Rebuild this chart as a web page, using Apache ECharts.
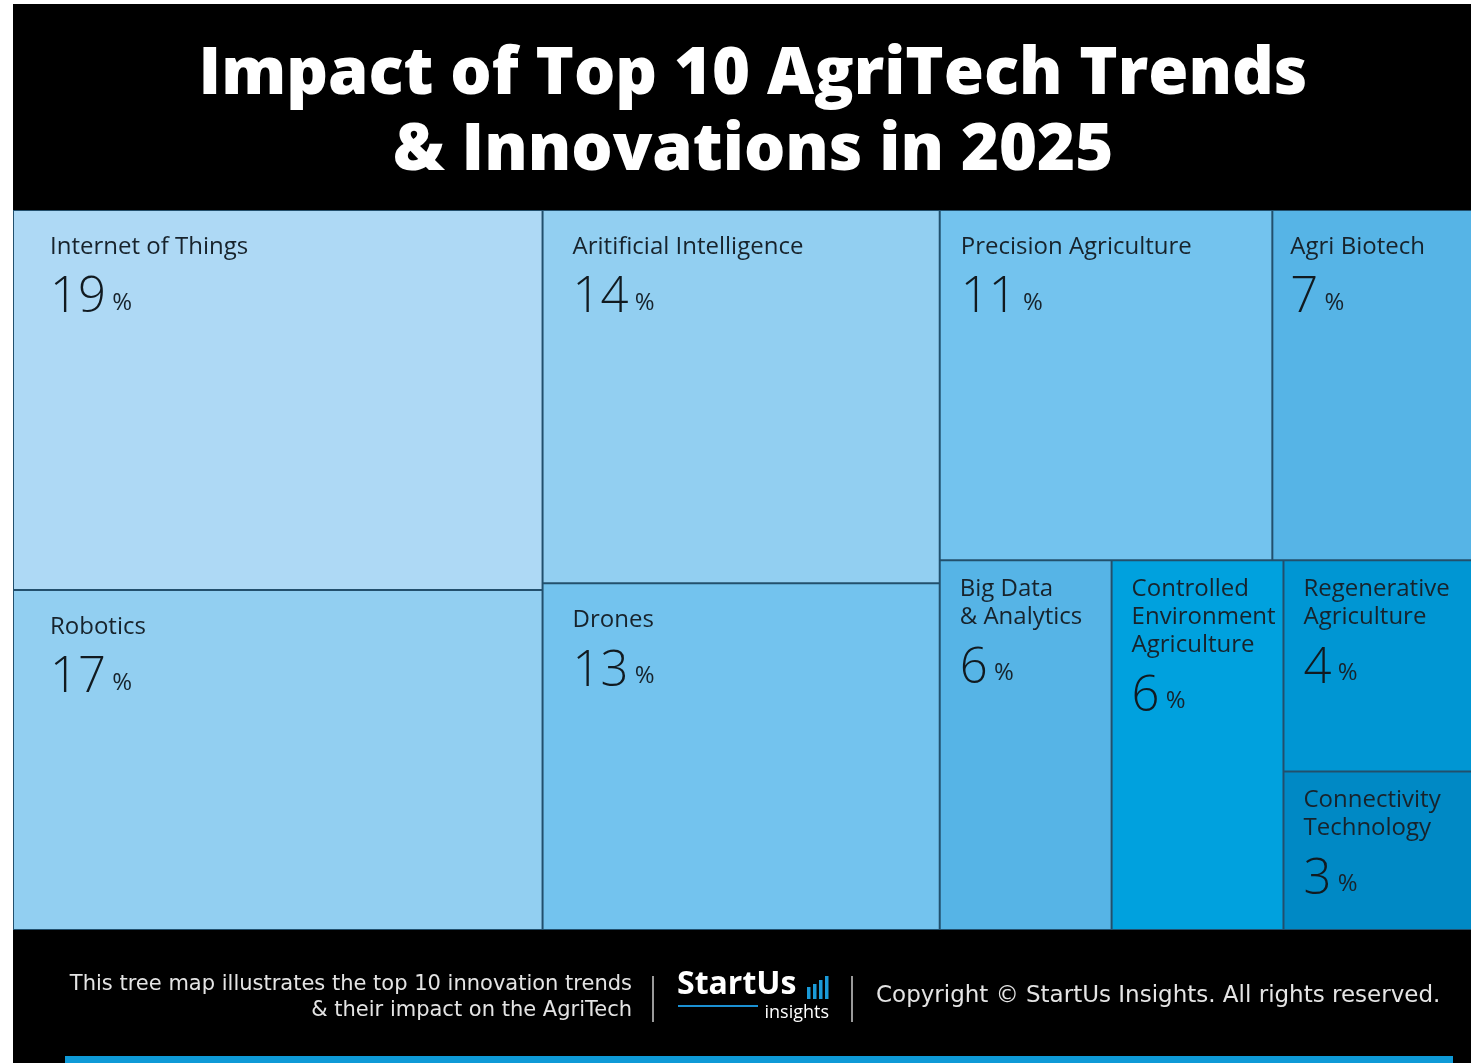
<!DOCTYPE html>
<html>
<head>
<meta charset="utf-8">
<title>Impact of Top 10 AgriTech Trends &amp; Innovations in 2025</title>
<script src="https://cdn.jsdelivr.net/npm/echarts@6/dist/echarts.min.js"></script>
<style>
  html, body { margin: 0; padding: 0; background: #ffffff; }
  #chart { width: 1471px; height: 1063px; }
</style>
</head>
<body>
<div id="chart"></div>
<script>
// ---- data -------------------------------------------------------------
const trendNames = [
  'Internet of Things',
  'Robotics',
  'Aritificial Intelligence',
  'Drones',
  'Precision Agriculture',
  'Agri Biotech',
  'Big Data\n& Analytics',
  'Controlled\nEnvironment\nAgriculture',
  'Regenerative\nAgriculture',
  'Connectivity\nTechnology'
];
const impactPct = [19, 17, 14, 13, 11, 7, 6, 6, 4, 3];
const cellColors = [
  '#aed9f5', '#92cff1', '#92cff1', '#73c3ee', '#73c3ee',
  '#56b4e6', '#56b4e6', '#00a1de', '#0096d3', '#0089c5'
];
const titleLines = ['Impact of Top 10 AgriTech Trends', '& Innovations in 2025'];
const noteLines = ['This tree map illustrates the top 10 innovation trends', '& their impact on the AgriTech'];
const brandName = 'StartUs';
const brandSub = 'insights';
const copyrightText = 'Copyright \u00a9 StartUs Insights. All rights reserved.';

// ---- nested blocks of the map (indices into the arrays above) ----------
// label inset [left, top] inside a cell: roomier in the big left blocks
const insetWide = [31, 17];
const insetMid = [24, 17];
const insetNarrow = [15, 17];
const insetLow = [14, 9];

const leaf = (i, inset) => ({
  name: trendNames[i],
  value: impactPct[i],
  itemStyle: { color: cellColors[i], borderWidth: 1 },
  label: { position: inset }
});
const group = (name, children) => ({ name, children });

const treeData = [
  group('g1', [leaf(0, insetWide), leaf(1, insetWide)]),
  group('g2', [leaf(2, insetMid), leaf(3, insetMid)]),
  group('g3', [
    group('g3a', [leaf(4, insetNarrow), leaf(5, [12, 17])]),
    group('g3b', [leaf(6, insetLow), leaf(7, insetLow),
      group('g3c', [leaf(8, insetLow), leaf(9, insetLow)])])
  ])
];

// ---- chart ------------------------------------------------------------
const chart = echarts.init(document.getElementById('chart'), null, { renderer: 'canvas' });

const textFont = '"Open Sans", "Noto Sans", sans-serif';
const footFont = '"DejaVu Sans", "Open Sans", sans-serif';
const barHeights = [12, 15, 19, 23];

const graphics = [
  // dark panel behind everything
  { type: 'rect', z: -10, shape: { x: 13, y: 4, width: 1458, height: 1059 }, style: { fill: '#000000' } },
  // title
  { type: 'text', z: 10, style: { text: titleLines[0], x: 753, y: 75, textAlign: 'center', textVerticalAlign: 'middle',
      fill: '#ffffff', font: '800 65px ' + textFont } },
  { type: 'text', z: 10, style: { text: titleLines[1], x: 753, y: 151, textAlign: 'center', textVerticalAlign: 'middle',
      fill: '#ffffff', font: '800 65px ' + textFont } },
  // footer note
  { type: 'text', z: 10, style: { text: noteLines[0], x: 632, y: 985, textAlign: 'right', textVerticalAlign: 'middle',
      fill: '#e4e4e4', font: '400 21px ' + footFont } },
  { type: 'text', z: 10, style: { text: noteLines[1], x: 632, y: 1011, textAlign: 'right', textVerticalAlign: 'middle',
      fill: '#e4e4e4', font: '400 21px ' + footFont } },
  // separators
  { type: 'line', z: 10, shape: { x1: 653, y1: 976, x2: 653, y2: 1022 }, style: { stroke: '#9a9a9a', lineWidth: 2 } },
  { type: 'line', z: 10, shape: { x1: 852, y1: 976, x2: 852, y2: 1022 }, style: { stroke: '#9a9a9a', lineWidth: 2 } },
  // brand
  { type: 'text', z: 10, style: { text: brandName, x: 677, y: 1001, textAlign: 'left', textVerticalAlign: 'bottom',
      fill: '#ffffff', font: '700 32px ' + textFont } },
  { type: 'rect', z: 10, shape: { x: 678, y: 1005, width: 80, height: 2 }, style: { fill: '#1b90d2' } },
  { type: 'text', z: 10, style: { text: brandSub, x: 829, y: 1013, textAlign: 'right', textVerticalAlign: 'middle',
      fill: '#ffffff', font: '400 18px ' + textFont } },
  // copyright
  { type: 'text', z: 10, style: { text: copyrightText, x: 876, y: 996, textAlign: 'left', textVerticalAlign: 'middle',
      fill: '#e4e4e4', font: '400 23px ' + footFont } },
  // bottom accent strip
  { type: 'rect', z: 10, shape: { x: 65, y: 1056, width: 1388, height: 7 }, style: { fill: '#0e9ad7' } }
];
barHeights.forEach((h, i) => {
  graphics.push({ type: 'rect', z: 10, shape: { x: 807 + i * 6, y: 999 - h, width: 3.5, height: h },
    style: { fill: '#1a9ad8' } });
});

chart.setOption({
  animation: false,
  backgroundColor: 'transparent',
  graphic: graphics,
  series: [{
    type: 'treemap',
    left: 13,
    top: 210,
    width: 1471,
    height: 720,
    sort: false,
    squareRatio: 0.6,
    roam: false,
    nodeClick: false,
    breadcrumb: { show: false },
    emphasis: { disabled: true },
    itemStyle: { borderWidth: 0, gapWidth: 0, borderColor: '#23506d' },
    upperLabel: { show: false },
    label: {
      show: true,
      position: insetWide,
      overflow: 'none',
      formatter: p => '{name|' + p.name + '}\n{val|' + p.value + '}{pct| %}',
      rich: {
        name: { fontFamily: textFont, fontSize: 24, fontWeight: 400, color: '#17232c', lineHeight: 28 },
        val: { fontFamily: textFont, fontSize: 49, fontWeight: 300, color: '#111a20', lineHeight: 62, verticalAlign: 'bottom' },
        pct: { fontFamily: textFont, fontSize: 24, fontWeight: 400, color: '#17232c', lineHeight: 30,
          verticalAlign: 'bottom', padding: [0, 0, 8, 0] }
      }
    },
    data: treeData
  }]
});
</script>
</body>
</html>
